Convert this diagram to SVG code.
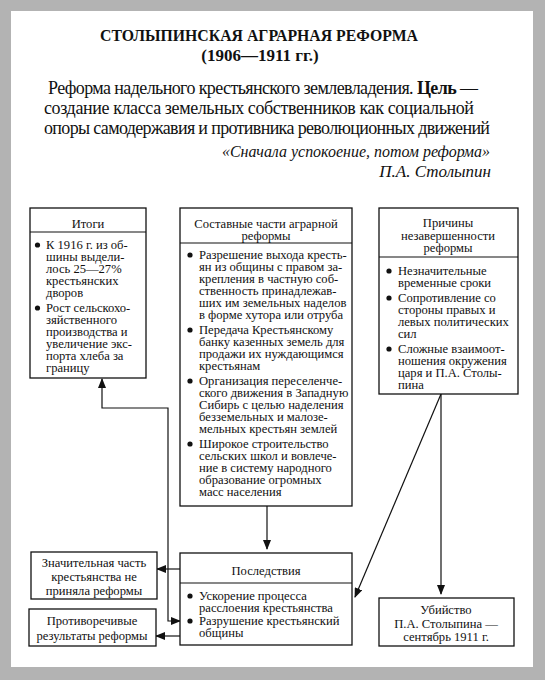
<svg xmlns="http://www.w3.org/2000/svg" width="545" height="680" viewBox="0 0 545 680">
<style>
.t{font-family:"Liberation Serif","Times New Roman",serif;fill:#111}
.box{fill:#fff;stroke:#111;stroke-width:1.3}
.div{stroke:#111;stroke-width:1.1}
.b{font-size:12.6px}
.c{text-anchor:middle}
.ln{fill:none;stroke:#111;stroke-width:1.2}
.dot{fill:#111}
</style>
<defs>
<marker id="ah" markerUnits="userSpaceOnUse" markerWidth="10" markerHeight="8" refX="9" refY="4" orient="auto-start-reverse">
<path d="M0,0 L10,4 L0,8 Z" fill="#111"/>
</marker>
</defs>
<rect x="0" y="0" width="545" height="680" fill="#b3b3b3"/>
<rect x="11" y="11" width="522" height="656" fill="#fff"/>

<g id="header">
<text class="t" x="100" y="41" font-size="17" font-weight="bold" textLength="318" lengthAdjust="spacingAndGlyphs">СТОЛЫПИНСКАЯ АГРАРНАЯ РЕФОРМА</text>
<text class="t c" x="260" y="61" font-size="17" font-weight="bold">(1906—1911 гг.)</text>
<text class="t" x="48" y="94" font-size="18" textLength="430" lengthAdjust="spacing">Реформа надельного крестьянского землевладения. <tspan font-weight="bold">Цель</tspan> —</text>
<text class="t" x="44" y="114" font-size="18" textLength="430" lengthAdjust="spacing">создание класса земельных собственников как социальной</text>
<text class="t" x="44" y="134" font-size="18" textLength="446" lengthAdjust="spacing">опоры самодержавия и противника революционных движений</text>
<text class="t" x="222" y="157" font-size="17" font-style="italic" textLength="268" lengthAdjust="spacingAndGlyphs">«Сначала успокоение, потом реформа»</text>
<text class="t" x="491" y="177" font-size="17" font-style="italic" text-anchor="end">П.А. Столыпин</text>
</g>

<g id="connectors">
<path class="ln" d="M102,379 L102,408 L168,408 L168,621 L180,621" marker-start="url(#ah)" marker-end="url(#ah)"/>
<path class="ln" d="M180,569 L157,569" marker-end="url(#ah)"/>
<path class="ln" d="M180,636 L156,636" marker-end="url(#ah)"/>
<path class="ln" d="M267,506 L267,549" marker-end="url(#ah)"/>
<path class="ln" d="M441,394 L441,594" marker-end="url(#ah)"/>
<path class="ln" d="M441,394 L355,597" marker-end="url(#ah)"/>
</g>

<g id="itogi">
<rect class="box" x="30" y="208" width="116" height="170"/>
<line class="div" x1="30" y1="232" x2="146" y2="232"/>
<text class="t b c" x="88" y="228">Итоги</text>
<circle class="dot" cx="37.5" cy="245" r="2.6"/>
<circle class="dot" cx="37.5" cy="308" r="2.6"/>
<text class="t b">
<tspan x="46" y="249">К 1916 г. из об-</tspan>
<tspan x="46" y="261">шины выдели-</tspan>
<tspan x="46" y="273">лось 25—27%</tspan>
<tspan x="46" y="285">крестьянских</tspan>
<tspan x="46" y="297">дворов</tspan>
<tspan x="46" y="312">Рост сельскохо-</tspan>
<tspan x="46" y="324">зяйственного</tspan>
<tspan x="46" y="336">производства и</tspan>
<tspan x="46" y="348">увеличение экс-</tspan>
<tspan x="46" y="360">порта хлеба за</tspan>
<tspan x="46" y="372">границу</tspan>
</text>
</g>

<g id="sostav">
<rect class="box" x="180" y="208" width="172" height="298"/>
<line class="div" x1="180" y1="243" x2="352" y2="243"/>
<text class="t b c" x="266" y="228">Составные части аграрной</text>
<text class="t b c" x="266" y="240">реформы</text>
<circle class="dot" cx="190" cy="255" r="2.6"/>
<circle class="dot" cx="190" cy="330" r="2.6"/>
<circle class="dot" cx="190" cy="381" r="2.6"/>
<circle class="dot" cx="190" cy="444" r="2.6"/>
<text class="t b">
<tspan x="199" y="259">Разрешение выхода кресть-</tspan>
<tspan x="199" y="271">ян из общины с правом за-</tspan>
<tspan x="199" y="283">крепления в частную соб-</tspan>
<tspan x="199" y="295">ственность принадлежав-</tspan>
<tspan x="199" y="307">ших им земельных наделов</tspan>
<tspan x="199" y="319">в форме хутора или отруба</tspan>
<tspan x="199" y="334">Передача Крестьянскому</tspan>
<tspan x="199" y="346">банку казенных земель для</tspan>
<tspan x="199" y="358">продажи их нуждающимся</tspan>
<tspan x="199" y="370">крестьянам</tspan>
<tspan x="199" y="385">Организация переселенче-</tspan>
<tspan x="199" y="397">ского движения в Западную</tspan>
<tspan x="199" y="409">Сибирь с целью наделения</tspan>
<tspan x="199" y="421">безземельных и малозе-</tspan>
<tspan x="199" y="433">мельных крестьян землей</tspan>
<tspan x="199" y="448">Широкое строительство</tspan>
<tspan x="199" y="460">сельских школ и вовлече-</tspan>
<tspan x="199" y="472">ние в систему народного</tspan>
<tspan x="199" y="484">образование огромных</tspan>
<tspan x="199" y="496">масс населения</tspan>
</text>
</g>

<g id="prichiny">
<rect class="box" x="379" y="208" width="139" height="186"/>
<line class="div" x1="379" y1="257" x2="518" y2="257"/>
<text class="t b c" x="448" y="227">Причины</text>
<text class="t b c" x="448" y="240">незавершенности</text>
<text class="t b c" x="448" y="252">реформы</text>
<circle class="dot" cx="389" cy="271" r="2.6"/>
<circle class="dot" cx="389" cy="298" r="2.6"/>
<circle class="dot" cx="389" cy="349" r="2.6"/>
<text class="t b">
<tspan x="398" y="275">Незначительные</tspan>
<tspan x="398" y="287">временные сроки</tspan>
<tspan x="398" y="302">Сопротивление со</tspan>
<tspan x="398" y="314">стороны правых и</tspan>
<tspan x="398" y="326">левых политических</tspan>
<tspan x="398" y="338">сил</tspan>
<tspan x="398" y="353">Сложные взаимоот-</tspan>
<tspan x="398" y="365">ношения окружения</tspan>
<tspan x="398" y="377">царя и П.А. Столы-</tspan>
<tspan x="398" y="389">пина</tspan>
</text>
</g>

<g id="posledstviya">
<rect class="box" x="180" y="553" width="172" height="92"/>
<line class="div" x1="180" y1="583" x2="352" y2="583"/>
<text class="t b c" x="266" y="575">Последствия</text>
<circle class="dot" cx="190" cy="596" r="2.6"/>
<circle class="dot" cx="190" cy="621" r="2.6"/>
<text class="t b">
<tspan x="199" y="600">Ускорение процесса</tspan>
<tspan x="199" y="612">расслоения крестьянства</tspan>
<tspan x="199" y="625">Разрушение крестьянский</tspan>
<tspan x="199" y="637">общины</tspan>
</text>
</g>

<g id="znachitelnaya">
<rect class="box" x="31" y="552" width="126" height="47"/>
<text class="t b c" x="94" y="567">Значительная часть</text>
<text class="t b c" x="94" y="581">крестьянства не</text>
<text class="t b c" x="94" y="595">приняла реформы</text>
</g>

<g id="protivorechivye">
<rect class="box" x="29" y="609" width="127" height="37"/>
<text class="t b c" x="92" y="625">Противоречивые</text>
<text class="t b c" x="92" y="640">результаты реформы</text>
</g>

<g id="ubiystvo">
<rect class="box" x="379" y="598" width="135" height="48"/>
<text class="t b c" x="446" y="614">Убийство</text>
<text class="t b c" x="446" y="628">П.А. Столыпина —</text>
<text class="t b c" x="446" y="641">сентябрь 1911 г.</text>
</g>
</svg>
